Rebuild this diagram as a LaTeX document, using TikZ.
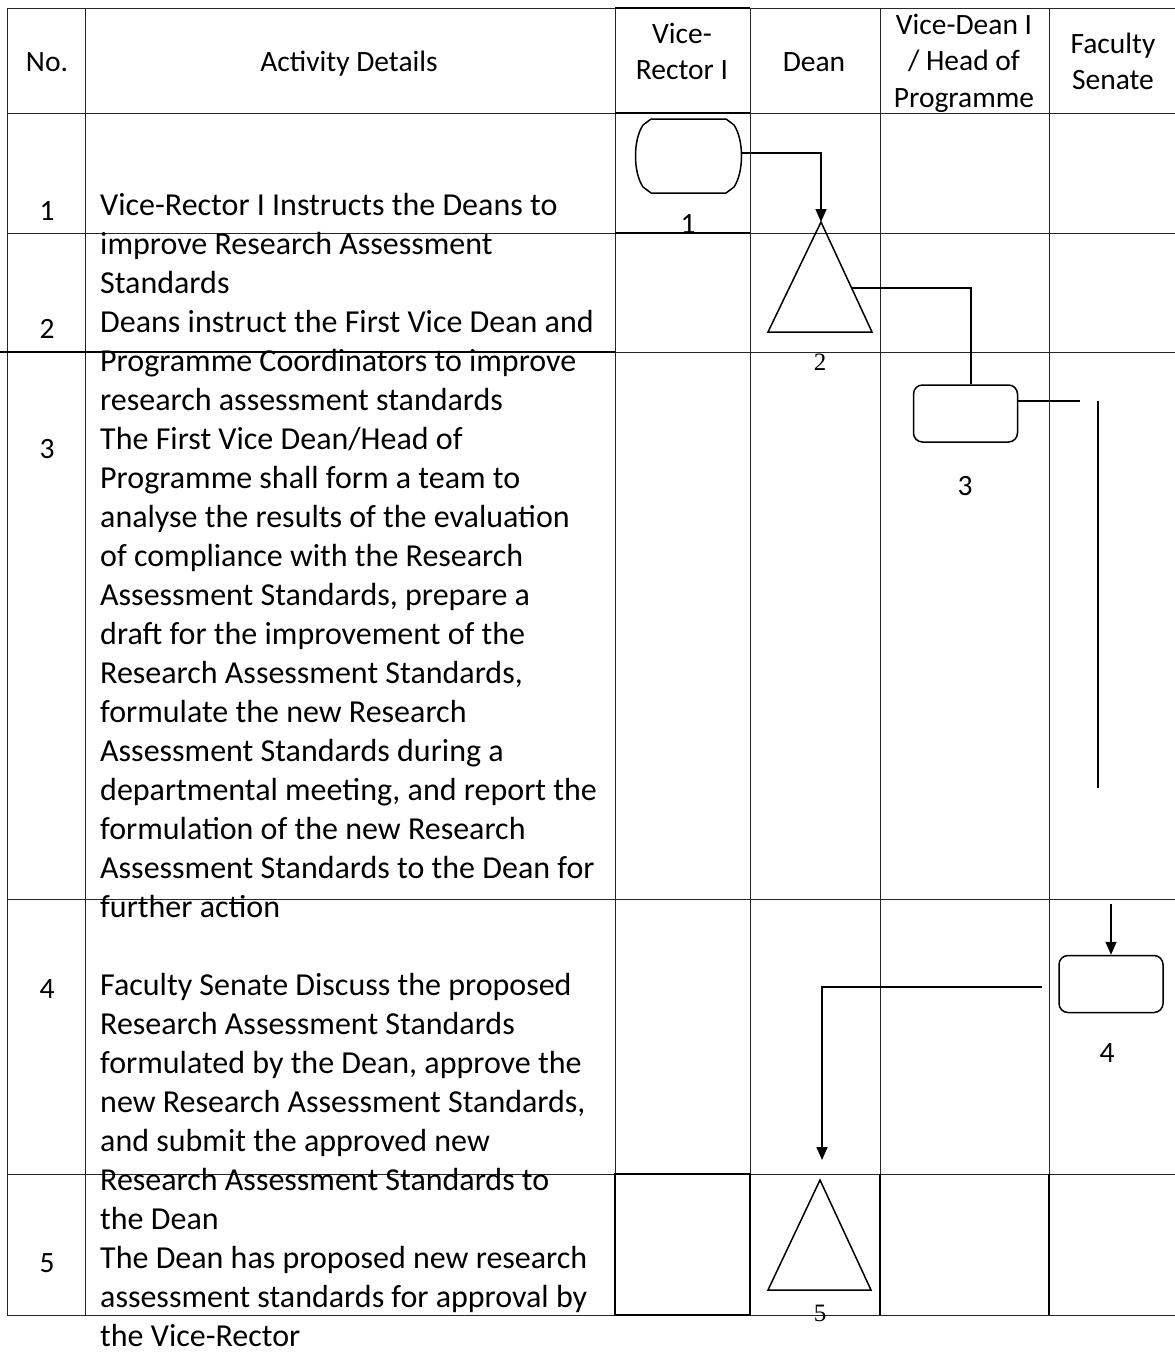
\documentclass[tikz,border=0pt]{standalone}
\usepackage{fontspec}
\setmainfont{Carlito}
\newfontfamily\numserif{Liberation Serif}
\usetikzlibrary{arrows.meta}

\begin{document}
\begin{tikzpicture}[x=1pt,y=-1pt,
  grid/.style={line width=1pt,draw=black!85},
  heavy/.style={line width=2.2pt},
  medium/.style={line width=1.6pt},
  flow/.style={line width=1.6pt},
  shapeline/.style={line width=1.5pt},
  tip/.style={-{Triangle[length=13pt,width=11pt]}},
  lbl/.style={inner sep=0pt,font=\fontsize{29.5}{36.5}\selectfont},
  serifnum/.style={inner sep=0pt,font=\numserif\fontsize{25}{30}\selectfont},
  procbox/.style={draw,line width=1.5pt,rounded corners=9pt,minimum width=104pt,minimum height=57pt,inner sep=0pt}
]
\useasboundingbox (0,0) rectangle (1175,1352);

% table grid
\foreach \yy in {8,113,233,352,899,1174,1315}
  \draw[grid] (7,\yy) -- (1175,\yy);
\foreach \xx in {7,85,615,750,880,1049}
  \draw[grid] (\xx,8) -- (\xx,1315);

% heavier rules around the Vice-Rector column and row 5
\draw[heavy] (615,8) -- (750,8);
\draw[heavy] (615,113) -- (750,113);
\draw[medium] (615,233) -- (750,233);
\draw[medium] (0,352) -- (615,352);
\draw[medium] (615,1174) rectangle (750,1315);
\draw[medium] (880,1174) -- (880,1315);
\draw[medium] (1049,1174) -- (1049,1315);

% header
\node[lbl,anchor=base] (hno) at (47,71) {No.};
\node[lbl,anchor=base] (hact) at (349,71) {Activity Details};
\node[lbl,anchor=north,align=center] (hvr) at (682,18) {\rule{0pt}{25pt}Vice-\\Rector I};
\node[lbl,anchor=base] (hdean) at (814,71) {Dean};
\node[lbl,anchor=north,align=center] (hvd) at (964,9) {\rule{0pt}{25pt}Vice-Dean I\\/ Head of\\Programme};
\node[lbl,anchor=north,align=center] (hfs) at (1113,28) {\rule{0pt}{25pt}Faculty\\Senate};

% row numbers
\node[lbl,anchor=base] (n1) at (47,220) {1};
\node[lbl,anchor=base] (n2) at (47,338) {2};
\node[lbl,anchor=base] (n3) at (47,458) {3};
\node[lbl,anchor=base] (n4) at (47,998) {4};
\node[lbl,anchor=base] (n5) at (47,1272) {5};

% activity text (flows across the row boundaries)
\node[inner sep=0pt,anchor=north west,align=left,font=\fontsize{32}{39}\selectfont] (body) at (100,187) {%
\rule{0pt}{28pt}Vice-Rector I Instructs the Deans to\\
improve Research Assessment\\
Standards\\
Deans instruct the First Vice Dean and\\
Programme Coordinators to improve\\
research assessment standards\\
The First Vice Dean/Head of\\
Programme shall form a team to\\
analyse the results of the evaluation\\
of compliance with the Research\\
Assessment Standards, prepare a\\
draft for the improvement of the\\
Research Assessment Standards,\\
formulate the new Research\\
Assessment Standards during a\\
departmental meeting, and report the\\
formulation of the new Research\\
Assessment Standards to the Dean for\\
further action\\
\mbox{}\\
Faculty Senate Discuss the proposed\\
Research Assessment Standards\\
formulated by the Dean, approve the\\
new Research Assessment Standards,\\
and submit the approved new\\
Research Assessment Standards to\\
the Dean\\
The Dean has proposed new research\\
assessment standards for approval by\\
the Vice-Rector};

% step 1: start shape
\node[minimum width=106pt,minimum height=74pt,inner sep=0pt] (s1) at (689,156) {};
\begin{scope}[shift={(s1.center)}]
  \draw[shapeline] (-38,-37) -- (37,-37) -- (45,-31)
    .. controls (55,-16) and (55,16) .. (45,31) -- (37,37) -- (-38,37) -- (-46,31)
    .. controls (-56,16) and (-56,-16) .. (-46,-31) -- cycle;
\end{scope}
\node[lbl,anchor=base] (l1) at (688,233) {1};

% step 2: triangle
\coordinate (t2top) at (821,222);
\coordinate (t2side) at (851,288);
\draw[shapeline] (t2top) -- (872,332) -- (768,332) -- cycle;
\node[serifnum,anchor=base] (l2) at (820,370) {2};

% step 3: process box
\node[procbox] (b3) at (965.5,413.5) {};
\node[lbl,anchor=base] (l3) at (965,495) {3};

% step 4: process box
\node[procbox] (b4) at (1111,984) {};
\node[lbl,anchor=base] (l4) at (1107,1062) {4};

% step 5: triangle
\coordinate (t5top) at (820,1180);
\draw[shapeline] (t5top) -- (871,1290) -- (768,1290) -- cycle;
\node[serifnum,anchor=base] (l5) at (820,1321) {5};

% connectors
\draw[flow,tip] ([yshift=3pt]s1.east) -| (t2top);
\draw[flow] (t2side) -| ([xshift=5.5pt]b3.north);
\coordinate (c3end) at (1080,401);
\draw[flow] ([yshift=12.5pt]b3.east) -- (c3end);
\coordinate (vtop) at (1098,401);
\coordinate (vbot) at (1098,788);
\draw[flow] (vtop) -- (vbot);
\coordinate (in4) at (1111,904);
\draw[flow,tip] (in4) -- (b4.north);
\coordinate (out4) at (1042,987);
\coordinate (in5) at (822,1160);
\draw[flow,tip] (out4) -| (in5);
\end{tikzpicture}
\end{document}
